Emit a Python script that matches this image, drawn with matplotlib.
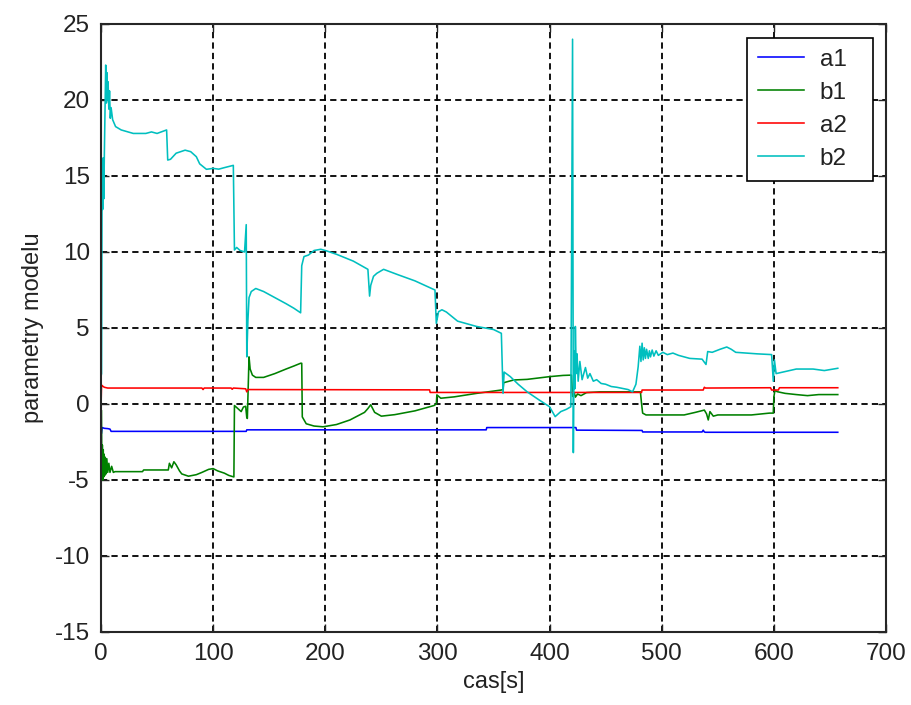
import matplotlib
matplotlib.use("Agg")
import matplotlib.pyplot as plt

plt.rcParams['font.family'] = ['Liberation Sans', 'DejaVu Sans']
plt.rcParams['lines.scale_dashes'] = False
plt.rcParams['axes.unicode_minus'] = False

# Model parameter estimates over time
t_a1 = [0.5, 1, 3, 6, 8, 9, 129.5, 130, 343.5, 344, 423.5, 424, 482.5, 483,
        536, 537, 538, 539, 657]
a1 = [-1.9, -1.55, -1.6, -1.62, -1.65, -1.8, -1.8, -1.7, -1.7, -1.55, -1.55,
      -1.72, -1.74, -1.84, -1.84, -1.72, -1.84, -1.86, -1.86]

t_a2 = [0, 0.5, 1, 3, 6, 90, 91, 92, 116, 117, 118, 129, 130, 131, 293,
        293.5, 482, 482.5, 537, 538, 539, 597, 598, 604, 605, 657]
a2 = [-0.2, 1.25, 1.2, 1.1, 1.05, 1.05, 0.95, 1.05, 1.05, 0.97, 1.05, 1.0,
      0.8, 0.95, 0.93, 0.76, 0.76, 0.92, 0.92, 1.1, 1.05, 1.07, 0.92, 0.92,
      1.07, 1.07]

t_b1 = [0, 0.3, 0.8, 1.2, 1.6, 2.0, 2.4, 2.8, 3.3, 3.8, 4.5, 5.2, 6.0, 7.0,
        8.0, 9.5, 11, 12.5, 37, 38, 60, 61, 63, 65, 67, 70, 72, 78, 85, 90,
        96, 100, 104, 110, 114, 118.5, 119, 122, 125, 127, 129, 130, 130.5,
        132, 133, 135, 138, 145, 155, 165, 172, 178, 179, 179.5, 183, 190,
        198, 210, 222, 235, 238, 240.5, 244, 250, 262, 280, 297, 299, 299.5,
        303, 315, 335, 357, 358.5, 359, 368, 380, 400, 412, 419.5, 420.5,
        422, 423, 425, 428, 433, 445, 481, 482, 483, 486, 520, 530, 538, 540,
        541.5, 543, 546, 550, 580, 596, 599.5, 600, 601, 603, 610, 620, 630,
        640, 657]
b1 = [-13.6, -0.4, -4.9, -2.7, -5.0, -3.0, -4.8, -3.3, -4.7, -3.5, -4.6,
      -3.6, -4.5, -3.9, -4.5, -4.1, -4.5, -4.45, -4.45, -4.34, -4.34, -3.9,
      -4.2, -3.8, -4.0, -4.4, -4.6, -4.75, -4.65, -4.5, -4.3, -4.25, -4.4,
      -4.55, -4.7, -4.8, -0.1, -0.3, -0.5, -0.2, -0.15, -0.9, -0.95, 3.1,
      2.3, 1.9, 1.75, 1.75, 2.0, 2.3, 2.5, 2.68, 2.68, -0.85, -1.3, -1.45,
      -1.5, -1.35, -1.05, -0.55, -0.3, -0.05, -0.55, -0.8, -0.7, -0.45,
      -0.1, 0.0, 0.6, 0.38, 0.47, 0.7, 0.92, 0.95, 1.4, 1.58, 1.62, 1.8,
      1.88, 1.9, 0.5, 0.75, 0.45, 0.66, 0.55, 0.75, 0.8, 0.8, 0.04, -0.6,
      -0.72, -0.72, -0.55, -0.4, -0.65, -1.05, -0.5, -0.8, -0.72, -0.72,
      -0.6, -0.6, 0.47, 0.9, 0.81, 0.7, 0.62, 0.55, 0.62, 0.62]

t_b2 = [0, 0.5, 1.0, 1.5, 2.0, 2.5, 3.0, 3.6, 4.2, 4.8, 5.3, 5.8, 6.3, 7.0,
        7.6, 8.3, 9.0, 10.4, 13, 18, 28.8, 40, 45, 50, 58.5, 59.5, 62, 67,
        75, 80, 85, 88, 94, 100, 105, 110, 118, 119, 121, 124, 128, 129.5,
        130, 131, 132, 134, 138, 145, 155, 165, 172, 178, 179, 181, 185, 190,
        196, 200, 210, 225, 238, 239.5, 240.5, 243, 246, 252, 265, 280,
        297.8, 299, 301, 304, 308, 318, 335, 350, 357, 358.5, 359.5, 365,
        372, 380, 390, 400, 405, 410, 415, 419, 420.5, 421.2, 421.8, 422.5,
        423, 423.8, 424.5, 425.5, 427, 429, 432, 434, 436, 439, 442, 446,
        450, 455, 460, 470, 474, 477, 479, 480.5, 481.5, 482.5, 483.5, 484.5,
        485.5, 486.5, 488, 489, 490, 491.5, 493, 495, 497, 501, 505, 510,
        515, 525, 536, 539.5, 541, 545, 552, 558, 562, 566, 585, 598, 599.5,
        600.5, 602, 608, 620, 635, 645, 657]
b2 = [1.8, 2.0, 16.0, 12.8, 16.2, 13.5, 16.5, 19.5, 22.3, 19.8, 21.8, 20.0,
      21.2, 19.4, 20.6, 18.8, 19.5, 18.7, 18.25, 18.03, 17.8, 17.8, 17.9,
      17.8, 18.03, 16.05, 16.1, 16.5, 16.7, 16.6, 16.27, 15.8, 15.44, 15.5,
      15.45, 15.55, 15.7, 10.13, 10.3, 10.1, 10.0, 11.8, 3.1, 5.5, 7.0, 7.4,
      7.6, 7.4, 7.0, 6.6, 6.3, 6.0, 9.1, 9.7, 9.8, 10.1, 10.18, 10.1, 9.85,
      9.4, 8.86, 7.1, 7.8, 8.4, 8.6, 8.86, 8.5, 8.1, 7.5, 5.3, 6.07, 6.2,
      6.05, 5.45, 5.1, 4.9, 4.65, 0.7, 2.1, 1.8, 1.3, 0.8, 0.3, -0.18, -0.83,
      -0.5, -0.35, -0.18, 24.0, -3.2, 3.5, 1.0, 5.1, 2.0, 3.3, 1.5, 2.8, 1.6,
      2.4, 1.7, 2.0, 1.5, 1.6, 1.35, 1.3, 1.15, 1.1, 0.95, 0.8, 1.3, 2.45,
      3.8, 2.8, 4.0, 2.9, 3.7, 3.0, 3.6, 3.0, 3.5, 3.1, 3.55, 3.15, 3.5, 3.2,
      3.4, 3.25, 3.35, 3.2, 3.0, 2.95, 2.6, 3.45, 3.4, 3.6, 3.75, 3.6, 3.4,
      3.3, 3.25, 1.5, 2.9, 2.0, 2.1, 2.3, 2.3, 2.2, 2.35]

series = [("a1", t_a1, a1, "#0000ff"),
          ("b1", t_b1, b1, "#008000"),
          ("a2", t_a2, a2, "#ff0000"),
          ("b2", t_b2, b2, "#00bfbf")]

x_ticks = [0, 100, 200, 300, 400, 500, 600, 700]
y_ticks = [-15, -10, -5, 0, 5, 10, 15, 20, 25]

fig = plt.figure(figsize=(9.11, 7.05), dpi=100, facecolor="white")
ax = fig.add_axes([101 / 911, 1 - 632 / 705, 785 / 911, 608 / 705])

for name, t, v, c in series:
    ax.plot(t, v, color=c, linewidth=1.15, label=name)

ax.set_xlim(0, 700)
ax.set_ylim(-15, 25)
ax.set_xticks(x_ticks)
ax.set_yticks(y_ticks)
ax.grid(True, color="black", linewidth=1.3, linestyle=(0, (4.5, 3.0)))
ax.tick_params(direction="in", length=6, width=1, top=True, right=True,
               labelsize=17.5, colors="#222222", pad=8)
for s in ax.spines.values():
    s.set_linewidth(1.5)
    s.set_color("#262626")

ax.set_xlabel("cas[s]", fontsize=17, color="#222222", labelpad=4)
ax.set_ylabel("parametry modelu", fontsize=17, color="#222222", labelpad=8)

leg = ax.legend(loc="upper left",
                bbox_to_anchor=(646 / 785, (632 - 175) / 608, 126 / 785,
                                137 / 608),
                mode="expand", fontsize=17.5, frameon=True, fancybox=False,
                framealpha=1, edgecolor="black", handlelength=1.9,
                handletextpad=0.65, labelspacing=0.45, borderpad=0.45,
                borderaxespad=0)
leg.get_frame().set_linewidth(1.2)
for txt in leg.get_texts():
    txt.set_color("#222222")

fig.savefig("out.png", dpi=100, facecolor="white")
